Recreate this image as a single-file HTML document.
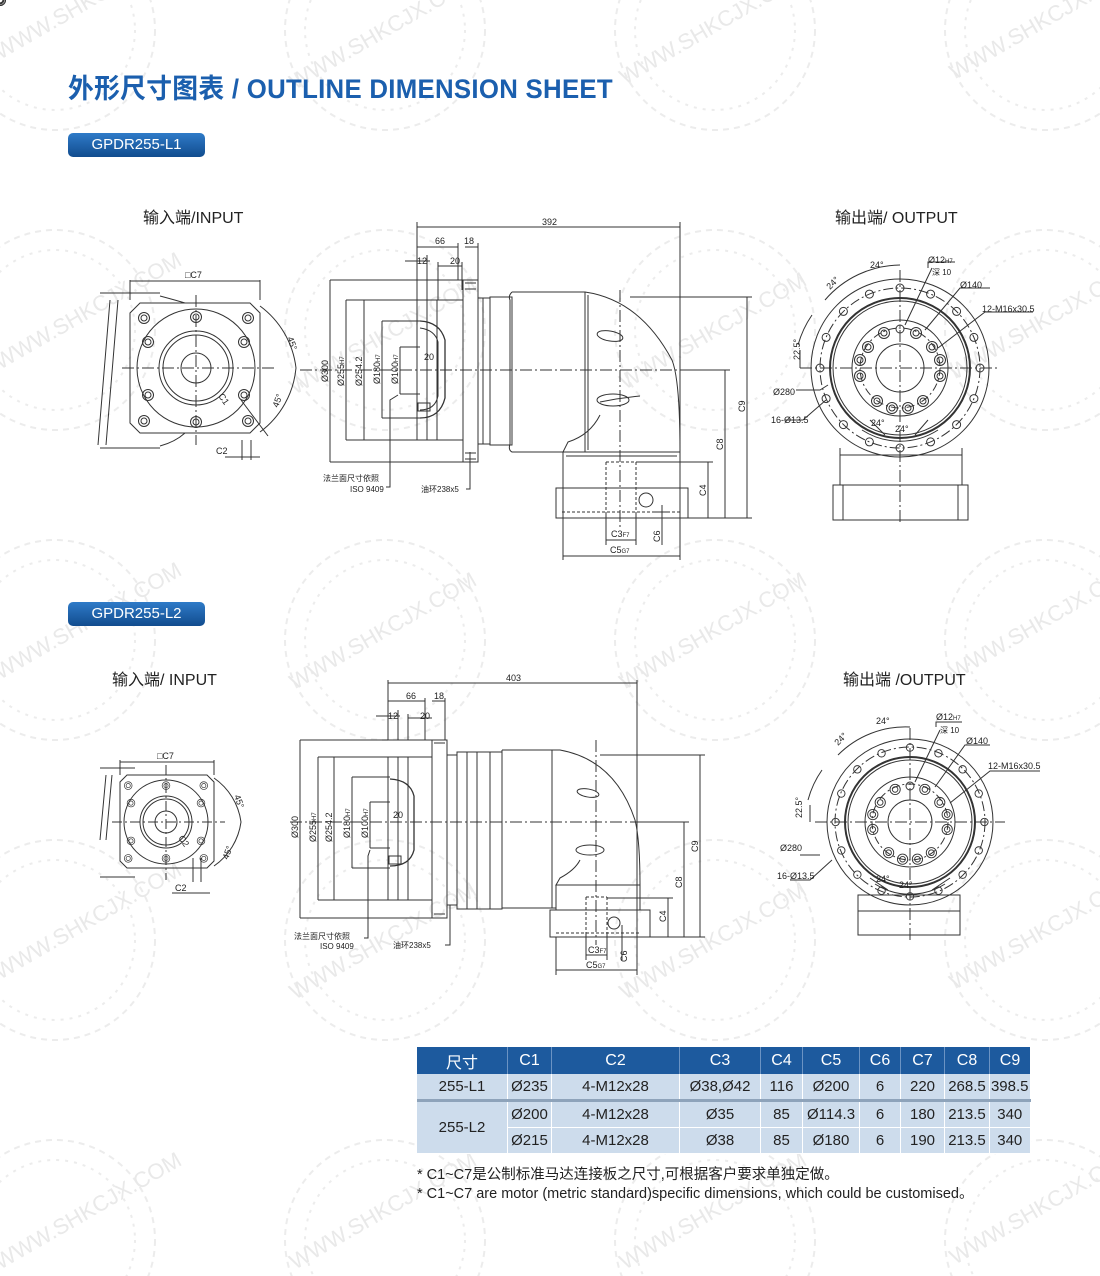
<!DOCTYPE html>
<html><head><meta charset="utf-8">
<style>
html,body{margin:0;padding:0;background:#fff;}
body{width:1100px;height:1276px;position:relative;overflow:hidden;font-family:"Liberation Sans","Noto Sans CJK SC",sans-serif;}
.title{position:absolute;left:68px;top:67px;font-size:27px;font-weight:bold;color:#1b5fae;letter-spacing:0.3px;white-space:nowrap;transform:scaleX(0.955);transform-origin:left top;font-family:"Liberation Sans","Noto Sans CJK SC",sans-serif;}
.pill{position:absolute;left:68px;width:137px;height:24px;border-radius:5px;background:linear-gradient(#2f7bc8,#114c8e);color:#fff;font-size:15px;line-height:24px;text-align:center;}
.lbl{position:absolute;font-size:16px;color:#222;font-family:"Liberation Sans","Noto Sans CJK SC",sans-serif;}
table{position:absolute;left:417px;top:1047px;border-collapse:collapse;font-size:15px;color:#222;}
td,th{text-align:center;padding:0;}
th{background:#1d5a9e;color:#fff;font-weight:normal;height:27px;font-size:16px;border-right:1px solid #6b93c3;}
td{background:#cddcec;height:25px;border-right:1px solid #fff;border-bottom:1px solid #fff;}
.note{position:absolute;left:417px;font-size:14.5px;color:#222;white-space:nowrap;}
svg{position:absolute;left:0;top:0;}
</style></head><body>
<svg width="1100" height="1276" viewBox="0 0 1100 1276">
<defs>
<g id="wm" fill="none" stroke="#ececec" stroke-width="2" stroke-dasharray="6 5">
<circle r="100"/><circle r="80" stroke-dasharray="3 6"/>
</g>
</defs>
<g>
<use href="#wm" x="55" y="30"/><use href="#wm" x="385" y="30"/><use href="#wm" x="715" y="30"/><use href="#wm" x="1045" y="30"/>
<use href="#wm" x="55" y="330"/><use href="#wm" x="385" y="330"/><use href="#wm" x="715" y="330"/><use href="#wm" x="1045" y="330"/>
<use href="#wm" x="55" y="640"/><use href="#wm" x="385" y="640"/><use href="#wm" x="715" y="640"/><use href="#wm" x="1045" y="640"/>
<use href="#wm" x="55" y="940"/><use href="#wm" x="385" y="940"/><use href="#wm" x="715" y="940"/><use href="#wm" x="1045" y="940"/>
<use href="#wm" x="55" y="1240"/><use href="#wm" x="385" y="1240"/><use href="#wm" x="715" y="1240"/><use href="#wm" x="1045" y="1240"/>
</g>
<g fill="#e9e9e9" font-size="22" font-family="Liberation Sans,sans-serif">
<text transform="translate(0,60) rotate(-30)">WWW.SHKCJX.COM</text>
<text transform="translate(295,90) rotate(-30)">WWW.SHKCJX.COM</text>
<text transform="translate(625,85) rotate(-30)">WWW.SHKCJX.COM</text>
<text transform="translate(955,80) rotate(-30)">WWW.SHKCJX.COM</text>
<text transform="translate(0,370) rotate(-30)">WWW.SHKCJX.COM</text>
<text transform="translate(295,395) rotate(-30)">WWW.SHKCJX.COM</text>
<text transform="translate(625,390) rotate(-30)">WWW.SHKCJX.COM</text>
<text transform="translate(955,380) rotate(-30)">WWW.SHKCJX.COM</text>
<text transform="translate(0,680) rotate(-30)">WWW.SHKCJX.COM</text>
<text transform="translate(295,690) rotate(-30)">WWW.SHKCJX.COM</text>
<text transform="translate(625,690) rotate(-30)">WWW.SHKCJX.COM</text>
<text transform="translate(955,680) rotate(-30)">WWW.SHKCJX.COM</text>
<text transform="translate(0,980) rotate(-30)">WWW.SHKCJX.COM</text>
<text transform="translate(295,1000) rotate(-30)">WWW.SHKCJX.COM</text>
<text transform="translate(625,1000) rotate(-30)">WWW.SHKCJX.COM</text>
<text transform="translate(955,990) rotate(-30)">WWW.SHKCJX.COM</text>
<text transform="translate(0,1270) rotate(-30)">WWW.SHKCJX.COM</text>
<text transform="translate(295,1270) rotate(-30)">WWW.SHKCJX.COM</text>
<text transform="translate(625,1270) rotate(-30)">WWW.SHKCJX.COM</text>
<text transform="translate(955,1265) rotate(-30)">WWW.SHKCJX.COM</text>
</g>

<!-- ============ L1 INPUT ============ -->
<g fill="none" stroke="#333" stroke-width="1">
<path d="M100,293 H160 M100,448 H160 M110,300 L98,445 M118,300 L106,445"/>
<path d="M160,296 Q175,300 185,303 M160,446 Q175,442 185,433"/>
<path d="M140,303 H250 L260,313 V423 L250,433 H140 L130,423 V313 Z"/>
<circle cx="196" cy="368" r="59"/>
<circle cx="196" cy="368" r="37"/><circle cx="196" cy="368" r="33"/>
<circle cx="196" cy="368" r="15"/>
<g id="bh"><circle r="5.5"/><circle r="3"/></g>
<use href="#bh" x="196" y="317"/><use href="#bh" x="196" y="422"/>
<use href="#bh" x="148" y="342"/><use href="#bh" x="244" y="342"/>
<use href="#bh" x="148" y="395"/><use href="#bh" x="244" y="395"/>
<use href="#bh" x="144" y="318"/><use href="#bh" x="248" y="318"/>
<use href="#bh" x="144" y="421"/><use href="#bh" x="248" y="421"/>
<path d="M122,368 H275 M196,295 V445" stroke-dasharray="12 3 2 3"/>
<path d="M130,281 H260 M130,280 V300 M260,280 V300"/>
<path d="M260,306 A90,90 0 0 1 296,368 M296,368 A90,90 0 0 1 260,432"/>
<path d="M241,400 L268,436 M242,440 V460 M251,440 V460 M225,457 H260"/>
</g>
<g font-size="9" fill="#222">
<text x="185" y="278">□C7</text>
<text x="287" y="338" transform="rotate(70 287 338)">45°</text>
<text x="278" y="408" transform="rotate(-70 278 408)">45°</text>
<text x="218" y="396" transform="rotate(55 218 396)">C1</text>
<text x="216" y="454">C2</text>
</g>

<!-- ============ L1 SIDE ============ -->
<g fill="none" stroke="#333" stroke-width="1">
<path d="M417,227 H680 M417,222 V300 M680,222 V520"/>
<path d="M417,247 H458 M458,243 V280 M465,247 H478 M478,243 V280"/>
<path d="M405,261 H430 M417,255 V300 M427,255 V300 M438,266 H462 M438,262 V300 M462,262 V290"/>
<path d="M330,280 V462 M330,280 H463 M330,462 H463"/>
<path d="M346,300 V440 M346,300 H417 M346,440 H417"/>
<path d="M364,300 V440"/>
<path d="M382,321 V418 M382,321 H420 M382,418 H420"/>
<path d="M400,347 V394 M400,347 H420 M400,394 H420"/>
<rect x="417" y="300" width="10" height="140"/>
<rect x="427" y="300" width="36" height="140"/>
<path d="M437,300 V440"/>
<path d="M420,321 Q440,322 445,340 V398 Q440,418 420,418" stroke-width="1.3"/>
<path d="M420,328 Q435,330 438,342 V396 Q435,410 420,410" />
<rect x="418" y="403" width="12" height="8"/>
<rect x="463" y="280" width="15" height="182"/>
<path d="M465,283 H476 M465,289 H476 M465,453 H476 M465,459 H476"/>
<rect x="478" y="298" width="12" height="146"/>
<path d="M483,298 V444"/>
<rect x="490" y="297" width="22" height="148"/>
<path d="M512,292 H585 Q640,300 672,360 Q680,380 680,452 H563 L568,442 Q590,435 600,415 M512,292 Q508,296 510,300 V444 Q508,450 512,452 H563"/>
<path d="M585,292 V452 M588,295 V450"/>
<ellipse cx="610" cy="336" rx="13" ry="5" transform="rotate(10 610 336)"/>
<ellipse cx="613" cy="400" rx="16" ry="6"/>
<path d="M600,402 Q620,398 640,396"/>
<rect x="563" y="452" width="117" height="36"/>
<path d="M566,456 H677"/>
<rect x="556" y="488" width="132" height="30"/>
<path d="M563,488 V518"/>
<circle cx="646" cy="500" r="7"/>
<path d="M606,462 V512 M636,462 V512 M606,462 H636 M562,512 H680" stroke-dasharray="3 2"/>
<path d="M300,370 H690 M620,290 V530" stroke-dasharray="12 3 2 3"/>
<path d="M630,297 H752 M747,297 V518 M680,370 H730 M725,370 V518 M636,462 H713 M708,462 V518 M680,518 H752"/>
<path d="M606,512 V545 M636,512 V545 M606,540 H636 M563,518 V560 M680,518 V560 M563,556 H680 M662,505 V545 M655,512 H670"/>
<path d="M398,395 L390,400 V487 H386 M470,452 V489 H466"/>
</g>
<g font-size="9" fill="#222">
<text x="542" y="225">392</text>
<text x="435" y="244">66</text><text x="464" y="244">18</text>
<text x="417" y="264">12</text><text x="450" y="264">20</text>
<text x="424" y="360">20</text>
<text transform="translate(328,382) rotate(-90)">Ø300</text>
<text transform="translate(344,386) rotate(-90)">Ø255<tspan font-size="6">H7</tspan></text>
<text transform="translate(362,386) rotate(-90)">Ø254.2</text>
<text transform="translate(380,384) rotate(-90)">Ø180<tspan font-size="6">H7</tspan></text>
<text transform="translate(398,384) rotate(-90)">Ø100<tspan font-size="6">H7</tspan></text>
<text transform="translate(745,412) rotate(-90)">C9</text>
<text transform="translate(723,450) rotate(-90)">C8</text>
<text transform="translate(706,496) rotate(-90)">C4</text>
<text transform="translate(660,542) rotate(-90)">C6</text>
<text x="611" y="537">C3<tspan font-size="6">F7</tspan></text>
<text x="610" y="553">C5<tspan font-size="6">G7</tspan></text>
<text x="323" y="481" font-size="8">法兰面尺寸依照</text>
<text x="350" y="492" font-size="8">ISO 9409</text>
<text x="421" y="492" font-size="8">油环238x5</text>
</g>

<!-- ============ L1 OUTPUT ============ -->
<g fill="none" stroke="#333" stroke-width="1">
<circle cx="900" cy="368" r="89"/>
<circle cx="900" cy="368" r="80" stroke-dasharray="10 3 2 3"/>
<circle cx="900" cy="368" r="70" stroke-width="2"/>
<circle cx="900" cy="368" r="67"/>
<circle cx="900" cy="368" r="48"/>
<circle cx="900" cy="368" r="40" stroke-dasharray="8 3 2 3"/>
<circle cx="900" cy="368" r="24"/>
<g id="oh"><circle r="4"/></g>
<use href="#oh" x="900" y="288"/><use href="#oh" x="930.6" y="294.1"/><use href="#oh" x="956.6" y="311.4"/><use href="#oh" x="973.9" y="337.4"/>
<use href="#oh" x="980" y="368"/><use href="#oh" x="973.9" y="398.6"/><use href="#oh" x="956.6" y="424.6"/><use href="#oh" x="930.6" y="441.9"/>
<use href="#oh" x="900" y="448"/><use href="#oh" x="869.4" y="441.9"/><use href="#oh" x="843.4" y="424.6"/><use href="#oh" x="826.1" y="398.6"/>
<use href="#oh" x="820" y="368"/><use href="#oh" x="826.1" y="337.4"/><use href="#oh" x="843.4" y="311.4"/><use href="#oh" x="869.4" y="294.1"/>
<g id="ih"><circle r="5.5"/><circle r="3"/></g>
<use href="#ih" x="884" y="333"/><use href="#ih" x="916" y="333"/><use href="#ih" x="932" y="347"/><use href="#ih" x="940" y="360"/><use href="#ih" x="940" y="376"/>
<use href="#ih" x="868" y="347"/><use href="#ih" x="860" y="360"/><use href="#ih" x="860" y="376"/>
<use href="#ih" x="877" y="401"/><use href="#ih" x="892" y="408"/><use href="#ih" x="908" y="408"/><use href="#ih" x="923" y="401"/>
<circle cx="900" cy="329" r="4"/>
<path d="M800,368 H1000 M900,270 V525" stroke-dasharray="12 3 2 3"/>
<path d="M840,448 V455 M962,448 V455"/>
<rect x="840" y="455" width="122" height="30"/>
<rect x="833" y="485" width="135" height="35"/>
<path d="M843,485 V520 M958,485 V520"/>
<path d="M825,300 A100,100 0 0 1 900,265 M800,350 V368 M798,345 A100,100 0 0 1 812,315"/>
<path d="M928,268 V262 H955 M932,268 L905,325 M990,288 H960 L925,330 M1033,312 H985 L938,348 M796,390 H820 L828,385 M785,420 H803 L826,400"/>
<path d="M870,420 L885,435 M928,420 L915,435 M862,430 A70,70 0 0 0 938,430"/>
</g>
<g font-size="9" fill="#222">
<text x="870" y="268">24°</text>
<text transform="translate(830,290) rotate(-45)">24°</text>
<text transform="translate(800,360) rotate(-90)">22.5°</text>
<text x="928" y="263">Ø12<tspan font-size="6">H7</tspan></text>
<text x="932" y="275" font-size="8">深 10</text>
<text x="960" y="288">Ø140</text>
<text x="982" y="312">12-M16x30.5</text>
<text x="773" y="395">Ø280</text>
<text x="771" y="423">16-Ø13.5</text>
<text x="871" y="426">24°</text><text x="895" y="432">24°</text>
</g>

<!-- ============ L2 INPUT ============ -->
<g fill="none" stroke="#333" stroke-width="1">
<path d="M100,768 H135 M100,877 H135 M106,775 L100,840 M112,775 L106,840"/>
<path d="M127,775 H207 L214,782 V861 L207,868 H127 L120,861 V782 Z"/>
<circle cx="166" cy="822" r="42"/>
<circle cx="166" cy="822" r="26"/><circle cx="166" cy="822" r="23"/>
<circle cx="166" cy="822" r="11"/>
<g transform="translate(166,822) scale(0.7)">
<use href="#bh" x="0" y="-52"/><use href="#bh" x="0" y="52"/>
<use href="#bh" x="-50" y="-27"/><use href="#bh" x="50" y="-27"/>
<use href="#bh" x="-50" y="27"/><use href="#bh" x="50" y="27"/>
<use href="#bh" x="-54" y="-52"/><use href="#bh" x="54" y="-52"/>
<use href="#bh" x="-54" y="52"/><use href="#bh" x="54" y="52"/>
</g>
<path d="M112,822 H225 M166,765 V880" stroke-dasharray="10 3 2 3"/>
<path d="M120,762 H214 M120,760 V775 M214,760 V775"/>
<path d="M214,778 A64,64 0 0 1 241,822 A64,64 0 0 1 214,866"/>
<path d="M193,858 V882 M201,858 V882 M172,893 H210"/>
</g>
<g font-size="9" fill="#222">
<text x="157" y="759">□C7</text>
<text transform="translate(234,796) rotate(70)">45°</text>
<text transform="translate(228,860) rotate(-70)">45°</text>
<text transform="translate(178,838) rotate(55)">C2</text>
<text x="175" y="891">C2</text>
</g>

<!-- ============ L2 SIDE ============ -->
<g fill="none" stroke="#333" stroke-width="1">
<path d="M388,683 H637 M388,680 V740 M637,680 V937"/>
<path d="M388,701 H425 M425,698 V740 M432,701 H445 M445,698 V740"/>
<path d="M376,716 H400 M388,710 V740 M398,710 V740 M408,718 H432 M408,714 V740"/>
<path d="M300,740 V918 M300,740 H432 M300,918 H432"/>
<path d="M318,757 V900 M318,757 H388 M318,900 H388"/>
<path d="M334,757 V900"/>
<path d="M352,777 V868 M352,777 H390 M352,868 H390"/>
<path d="M370,802 V848 M370,802 H390 M370,848 H390"/>
<rect x="388" y="757" width="10" height="143"/>
<rect x="398" y="757" width="34" height="143"/>
<path d="M408,757 V900"/>
<path d="M390,779 Q410,780 414,796 V850 Q410,866 390,866" stroke-width="1.3"/>
<rect x="389" y="856" width="12" height="8"/>
<rect x="432" y="740" width="15" height="178"/>
<path d="M434,743 H445 M434,914 H445"/>
<rect x="447" y="755" width="10" height="150"/>
<rect x="457" y="752" width="45" height="157"/>
<path d="M467,752 V909 M477,752 V909 M490,752 V909"/>
<path d="M502,750 H560 Q615,760 635,820 Q640,840 640,885 H556 L560,878 Q575,870 580,860 M502,750 V908 H556"/>
<path d="M552,750 V908"/>
<ellipse cx="588" cy="793" rx="11" ry="4" transform="rotate(10 588 793)"/>
<ellipse cx="590" cy="850" rx="14" ry="5"/>
<rect x="556" y="885" width="84" height="25"/>
<rect x="550" y="910" width="100" height="27"/>
<circle cx="614" cy="923" r="6"/>
<path d="M586,897 V933 M607,897 V933 M586,897 H607 M556,933 H640" stroke-dasharray="3 2"/>
<path d="M290,822 H650 M596,740 V945" stroke-dasharray="12 3 2 3"/>
<path d="M600,755 H705 M700,755 V937 M640,822 H689 M684,822 V937 M607,898 H673 M668,898 V937 M640,937 H705"/>
<path d="M586,933 V960 M607,933 V960 M586,955 H607 M556,937 V975 M637,937 V975 M556,970 H637 M622,925 V960"/>
<path d="M370,850 L368,856 V938 H364 M450,905 V945 H445"/>
</g>
<g font-size="9" fill="#222">
<text x="506" y="681">403</text>
<text x="406" y="699">66</text><text x="434" y="699">18</text>
<text x="388" y="719">12</text><text x="420" y="719">20</text>
<text x="393" y="818">20</text>
<text transform="translate(298,838) rotate(-90)">Ø300</text>
<text transform="translate(316,842) rotate(-90)">Ø255<tspan font-size="6">H7</tspan></text>
<text transform="translate(332,842) rotate(-90)">Ø254.2</text>
<text transform="translate(350,838) rotate(-90)">Ø180<tspan font-size="6">H7</tspan></text>
<text transform="translate(368,838) rotate(-90)">Ø100<tspan font-size="6">H7</tspan></text>
<text transform="translate(698,852) rotate(-90)">C9</text>
<text transform="translate(682,888) rotate(-90)">C8</text>
<text transform="translate(666,922) rotate(-90)">C4</text>
<text transform="translate(627,962) rotate(-90)">C6</text>
<text x="588" y="953">C3<tspan font-size="6">F7</tspan></text>
<text x="586" y="968">C5<tspan font-size="6">G7</tspan></text>
<text x="294" y="939" font-size="8">法兰面尺寸依照</text>
<text x="320" y="949" font-size="8">ISO 9409</text>
<text x="393" y="948" font-size="8">油环238x5</text>
</g>

<!-- ============ L2 OUTPUT ============ -->
<g fill="none" stroke="#333" stroke-width="1">
<circle cx="910" cy="822" r="83"/>
<circle cx="910" cy="822" r="75" stroke-dasharray="10 3 2 3"/>
<circle cx="910" cy="822" r="65" stroke-width="2"/>
<circle cx="910" cy="822" r="62"/>
<circle cx="910" cy="822" r="45"/>
<circle cx="910" cy="822" r="38" stroke-dasharray="8 3 2 3"/>
<circle cx="910" cy="822" r="22"/>
<g transform="translate(910,822) scale(0.93)">
<use href="#oh" x="0" y="-80"/><use href="#oh" x="30.6" y="-73.9"/><use href="#oh" x="56.6" y="-56.6"/><use href="#oh" x="73.9" y="-30.6"/>
<use href="#oh" x="80" y="0"/><use href="#oh" x="73.9" y="30.6"/><use href="#oh" x="56.6" y="56.6"/><use href="#oh" x="30.6" y="73.9"/>
<use href="#oh" x="0" y="80"/><use href="#oh" x="-30.6" y="73.9"/><use href="#oh" x="-56.6" y="56.6"/><use href="#oh" x="-73.9" y="30.6"/>
<use href="#oh" x="-80" y="0"/><use href="#oh" x="-73.9" y="-30.6"/><use href="#oh" x="-56.6" y="-56.6"/><use href="#oh" x="-30.6" y="-73.9"/>
<use href="#ih" x="-16" y="-35"/><use href="#ih" x="16" y="-35"/><use href="#ih" x="32" y="-21"/><use href="#ih" x="40" y="-8"/><use href="#ih" x="40" y="8"/>
<use href="#ih" x="-32" y="-21"/><use href="#ih" x="-40" y="-8"/><use href="#ih" x="-40" y="8"/>
<use href="#ih" x="-23" y="33"/><use href="#ih" x="-8" y="40"/><use href="#ih" x="8" y="40"/><use href="#ih" x="23" y="33"/>
</g>
<circle cx="910" cy="786" r="4"/>
<path d="M815,822 H1005 M910,728 V940" stroke-dasharray="12 3 2 3"/>
<rect x="858" y="895" width="102" height="16"/>
<rect x="858" y="911" width="102" height="24"/>
<path d="M838,755 A95,95 0 0 1 910,727 M810,805 V822 M808,800 A95,95 0 0 1 822,770"/>
<path d="M936,727 V722 H962 M940,730 L915,782 M990,745 H965 L935,787 M1040,771 H990 L950,803 M800,855 H820 M790,880 H810 L832,860"/>
<path d="M870,878 L888,890 M950,878 L932,890 M875,884 A65,65 0 0 0 945,884"/>
</g>
<g font-size="9" fill="#222">
<text x="876" y="724">24°</text>
<text transform="translate(838,746) rotate(-45)">24°</text>
<text transform="translate(802,818) rotate(-90)">22.5°</text>
<text x="936" y="720">Ø12<tspan font-size="6">H7</tspan></text>
<text x="940" y="733" font-size="8">深 10</text>
<text x="966" y="744">Ø140</text>
<text x="988" y="769">12-M16x30.5</text>
<text x="780" y="851">Ø280</text>
<text x="777" y="879">16-Ø13.5</text>
<text x="876" y="882">24°</text><text x="899" y="888">24°</text>
</g>
</svg>

<div class="title">外形尺寸图表 / OUTLINE DIMENSION SHEET</div>
<div class="pill" style="top:133px;">GPDR255-L1</div>
<div class="pill" style="top:602px;">GPDR255-L2</div>
<div class="lbl" style="left:143px;top:204px;">输入端/INPUT</div>
<div class="lbl" style="left:835px;top:204px;">输出端/ OUTPUT</div>
<div class="lbl" style="left:112px;top:666px;">输入端/ INPUT</div>
<div class="lbl" style="left:843px;top:666px;">输出端 /OUTPUT</div>

<table>
<tr><th style="width:90px">尺寸</th><th style="width:43px">C1</th><th style="width:127px">C2</th><th style="width:80px">C3</th><th style="width:41px">C4</th><th style="width:56px">C5</th><th style="width:40px">C6</th><th style="width:43px">C7</th><th style="width:44px">C8</th><th style="width:40px;border-right:none">C9</th></tr>
<tr><td style="border-bottom:3px solid #8ea3ba">255-L1</td><td style="border-bottom:3px solid #8ea3ba">Ø235</td><td style="border-bottom:3px solid #8ea3ba">4-M12x28</td><td style="border-bottom:3px solid #8ea3ba">Ø38,Ø42</td><td style="border-bottom:3px solid #8ea3ba">116</td><td style="border-bottom:3px solid #8ea3ba">Ø200</td><td style="border-bottom:3px solid #8ea3ba">6</td><td style="border-bottom:3px solid #8ea3ba">220</td><td style="border-bottom:3px solid #8ea3ba">268.5</td><td style="border-bottom:3px solid #8ea3ba">398.5</td></tr>
<tr><td rowspan="2">255-L2</td><td>Ø200</td><td>4-M12x28</td><td>Ø35</td><td>85</td><td>Ø114.3</td><td>6</td><td>180</td><td>213.5</td><td>340</td></tr>
<tr><td>Ø215</td><td>4-M12x28</td><td>Ø38</td><td>85</td><td>Ø180</td><td>6</td><td>190</td><td>213.5</td><td>340</td></tr>
</table>
<div class="note" style="top:1163px;">* C1~C7是公制标准马达连接板之尺寸,可根据客户要求单独定做。</div>
<div class="note" style="top:1182px;">* C1~C7 are motor (metric standard)specific dimensions, which could be customised。</div>
</body></html>
